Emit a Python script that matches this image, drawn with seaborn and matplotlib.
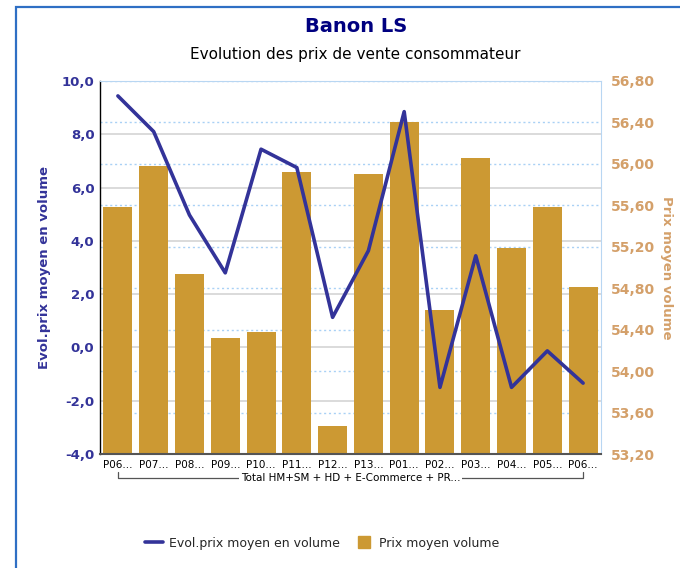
"""
Banon LS - evolution des prix de vente consommateur (bars + line, twin axes).
"""

import matplotlib

matplotlib.use("Agg")
import matplotlib.pyplot as plt
import matplotlib.transforms as mtransforms
import numpy as np
import pandas as pd
import seaborn as sns
from matplotlib.lines import Line2D
from matplotlib.patches import Rectangle

# --- data ---
periods = ["P06...", "P07...", "P08...", "P09...", "P10...", "P11...", "P12...",
           "P13...", "P01...", "P02...", "P03...", "P04...", "P05...", "P06..."]
prix_moyen = [55.58, 55.98, 54.94, 54.32, 54.38, 55.92, 53.47,
              55.90, 56.40, 54.59, 56.06, 55.19, 55.58, 54.81]
evol_prix = [9.44, 8.10, 4.97, 2.80, 7.44, 6.75, 1.13,
             3.63, 8.85, -1.50, 3.44, -1.50, -0.13, -1.34]
group_label = "Total HM+SM + HD + E-Commerce + PR..."
left_ticks = [-4, -2, 0, 2, 4, 6, 8, 10]
right_ticks = [53.2, 53.6, 54.0, 54.4, 54.8, 55.2, 55.6, 56.0, 56.4, 56.8]

BAR_COLOR = "#CC9933"
LINE_COLOR = "#333399"
RIGHT_COLOR = "#D4A06A"


def main() -> None:
    df = pd.DataFrame({"pos": np.arange(len(periods)), "prix": prix_moyen, "evol": evol_prix})

    sns.set_style("white")
    plt.rcParams["font.family"] = ["DejaVu Sans"]

    fig = plt.figure(figsize=(6.8, 5.68), dpi=100)
    ax = fig.add_axes([100 / 680, 1 - 454 / 568, 501 / 680, 373 / 568])
    ax_bar = ax.twinx()

    # bars go underneath, the line axes sits on top
    ax.set_zorder(2)
    ax.patch.set_visible(False)
    ax_bar.set_zorder(1)
    ax_bar.patch.set_visible(True)
    ax_bar.patch.set_facecolor("white")

    sns.barplot(data=df, x="pos", y="prix", ax=ax_bar, color=BAR_COLOR,
                saturation=1, width=0.81, linewidth=0)
    sns.lineplot(data=df, x="pos", y="evol", ax=ax, color=LINE_COLOR,
                 linewidth=2.6, legend=False)

    ax.set_xlim(-0.5, len(periods) - 0.5)
    ax.set_ylim(-4, 10)
    ax_bar.set_ylim(53.2, 56.8)

    # grid lines behind the bars
    ax_bar.set_axisbelow(True)
    ax_bar.set_yticks(right_ticks)
    ax_bar.yaxis.grid(True, color="#a9d1f5", linestyle=(0, (1.5, 2)), linewidth=1)
    trans = mtransforms.blended_transform_factory(ax_bar.transAxes, ax.transData)
    for v in left_ticks[1:-1]:
        ax_bar.plot([0, 1], [v, v], transform=trans, color="#d4d4d4",
                    linewidth=1.2, zorder=0.6)

    # left axis
    ax.set_yticks(left_ticks)
    ax.set_yticklabels([f"{v:.1f}".replace(".", ",") for v in left_ticks],
                       fontsize=9.5, fontweight="bold", color=LINE_COLOR)
    ax.tick_params(axis="y", length=0, pad=4)
    ax.set_ylabel("Evol.prix moyen en volume", fontsize=9.5, fontweight="bold",
                  color=LINE_COLOR, labelpad=8)

    # right axis
    ax_bar.set_yticklabels([f"{v:.2f}".replace(".", ",") for v in right_ticks],
                           fontsize=10, fontweight="bold", color=RIGHT_COLOR)
    ax_bar.tick_params(axis="y", length=0, pad=7)
    ax_bar.set_ylabel("Prix moyen volume", fontsize=9.5, fontweight="bold",
                      color=RIGHT_COLOR, rotation=270)
    ax_bar.yaxis.set_label_coords(1.143, 0.5)
    ax_bar.set_xlabel("")

    # x axis
    ax.set_xticks(df["pos"])
    ax.set_xticklabels(periods, fontsize=7.5, color="black")
    ax.tick_params(axis="x", length=0, pad=4)
    ax.set_xlabel("")

    for name, sp in ax_bar.spines.items():
        sp.set_visible(False)
    ax.spines["left"].set_color("black")
    ax.spines["left"].set_linewidth(1)
    ax.spines["bottom"].set_color("#555555")
    ax.spines["bottom"].set_linewidth(1.5)
    ax.spines["top"].set_color("#b8d6f2")
    ax.spines["right"].set_color("#b8d6f2")

    # group bracket under the period labels
    xtrans = mtransforms.blended_transform_factory(ax.transData, ax.transAxes)
    y_br = -0.064
    ax.plot([0, 0, len(periods) - 1, len(periods) - 1], [-0.047, y_br, y_br, -0.047],
            transform=xtrans, color="#555555", linewidth=0.9, clip_on=False)
    ax.text((len(periods) - 1) / 2, y_br, group_label, transform=xtrans,
            ha="center", va="center", fontsize=7.5, color="black",
            bbox=dict(facecolor="white", edgecolor="none", pad=1.5))

    # titles
    fig.text(0.523, 1 - 27 / 568, "Banon LS", ha="center", va="center",
             fontsize=14, fontweight="bold", color="#000080")
    fig.text(0.523, 1 - 55 / 568, "Evolution des prix de vente consommateur",
             ha="center", va="center", fontsize=11, color="black")

    # legend
    handles = [
        Line2D([0], [0], color=LINE_COLOR, linewidth=2.6, label="Evol.prix moyen en volume"),
        Line2D([0], [0], color=BAR_COLOR, marker="s", linestyle="none", markersize=9,
               label="Prix moyen volume"),
    ]
    fig.legend(handles=handles, loc="center", bbox_to_anchor=(322 / 680, 1 - 543 / 568),
               ncol=2, frameon=False, fontsize=9, handlelength=1.4,
               handletextpad=0.5, columnspacing=1.2)

    # outer chart frame (cut by the image edge on the right and bottom)
    fig.add_artist(Rectangle((16 / 680, -0.1), 1.2, 1 - 7 / 568 + 0.1,
                             transform=fig.transFigure, fill=False,
                             edgecolor="#2f6fc4", linewidth=1.6))

    fig.savefig("out.png", dpi=100)
    plt.close(fig)


if __name__ == "__main__":
    main()
